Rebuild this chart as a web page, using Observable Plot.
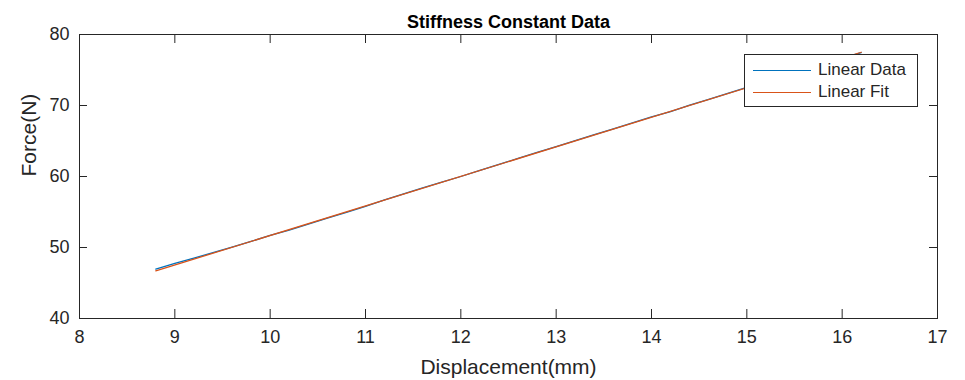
<!DOCTYPE html>
<html>
<head>
<meta charset="utf-8">
<script src="https://cdn.jsdelivr.net/npm/d3@7"></script>
<script src="https://cdn.jsdelivr.net/npm/@observablehq/plot@0.6"></script>
<style>
  body { margin: 0; background: #fff; }
  #wrap { position: relative; width: 965px; height: 380px; font-family: "Liberation Sans", Arial, Helvetica, sans-serif; }
  #legend { position: absolute; left: 744px; top: 54px; width: 172px; height: 51px; background: #fff; border: 1px solid #262626; }
  .row { position: absolute; left: 8px; height: 22px; display: flex; align-items: center; font-size: 17px; color: #262626; }
  .swatch { width: 58px; height: 0; border-top: 1.2px solid; margin-right: 7px; }
</style>
</head>
<body>
<div id="wrap"></div>
<script>
const title = "Stiffness Constant Data";
const xLabel = "Displacement(mm)";
const yLabel = "Force(N)";
const xTicks = [8, 9, 10, 11, 12, 13, 14, 15, 16, 17];
const yTicks = [40, 50, 60, 70, 80];
const seriesNames = ["Linear Data", "Linear Fit"];
const seriesColors = ["#0072BD", "#D95319"];

// Measured data (displacement mm, force N)
const dataX = [8.8, 9.0, 9.2, 9.4, 9.6, 9.8, 10.0, 10.2, 10.4, 10.6, 10.8, 11.0, 11.2, 11.4, 11.6, 11.8, 12.0, 12.2, 12.4, 12.6, 12.8, 13.0, 13.2, 13.4, 13.6, 13.8, 14.0, 14.2, 14.4, 14.6, 14.8, 15.0, 15.2, 15.4, 15.6, 15.8, 16.0, 16.2];
const dataY = [46.95, 47.75, 48.50, 49.28, 50.05, 50.85, 51.70, 52.45, 53.30, 54.15, 54.95, 55.80, 56.70, 57.55, 58.40, 59.20, 60.00, 60.85, 61.70, 62.55, 63.40, 64.20, 65.05, 65.90, 66.70, 67.55, 68.40, 69.15, 70.05, 70.85, 71.70, 72.55, 73.35, 74.20, 75.00, 75.85, 76.65, 77.45];
// Linear fit endpoints
const fitX = [8.8, 16.2];
const fitY = [46.7, 77.5];

const dataRows = dataX.map((x, i) => ({x, y: dataY[i]}));
const fitRows = fitX.map((x, i) => ({x, y: fitY[i]}));

const W = 965, H = 380, mL = 79, mR = 28, mT = 34, mB = 62;
const fw = W - mL - mR, fh = H - mT - mB;
const ink = "#262626";
const tx = 9, ty = 8;

const chart = Plot.plot({
  width: W, height: H,
  marginLeft: mL, marginRight: mR, marginTop: mT, marginBottom: mB,
  style: {fontFamily: '"Liberation Sans", Arial, Helvetica, sans-serif', color: ink, background: "#fff"},
  x: {domain: [8, 17]},
  y: {domain: [40, 80]},
  marks: [
    Plot.line(dataRows, {x: "x", y: "y", stroke: seriesColors[0], strokeWidth: 1.3}),
    Plot.line(fitRows, {x: "x", y: "y", stroke: seriesColors[1], strokeWidth: 1.3}),
    Plot.frame({stroke: ink, strokeWidth: 1}),
    Plot.ruleX(xTicks, {x: d => d, insetTop: fh - tx, stroke: ink}),
    Plot.ruleX(xTicks, {x: d => d, insetBottom: fh - tx, stroke: ink}),
    Plot.ruleY(yTicks, {y: d => d, insetRight: fw - ty, stroke: ink}),
    Plot.ruleY(yTicks, {y: d => d, insetLeft: fw - ty, stroke: ink}),
    Plot.axisX({ticks: xTicks, tickSize: 0, tickPadding: 12, fontSize: 18, label: null, fill: ink}),
    Plot.axisY({ticks: yTicks, tickSize: 0, tickPadding: 10, fontSize: 18, label: null, fill: ink}),
    Plot.text([xLabel], {text: d => d, frameAnchor: "bottom", lineAnchor: "bottom", dy: 55, fontSize: 21, fill: ink}),
    Plot.text([yLabel], {text: d => d, frameAnchor: "left", rotate: -90, lineAnchor: "top", dx: -58, fontSize: 21, fill: ink}),
    Plot.text([title], {text: d => d, frameAnchor: "top", lineAnchor: "bottom", dy: -7, fontSize: 18, fontWeight: "bold", fill: "#000"})
  ]
});

const wrap = document.getElementById("wrap");
wrap.appendChild(chart);
const legend = document.createElement("div");
legend.id = "legend";
seriesNames.forEach((name, i) => {
  const row = document.createElement("div");
  row.className = "row";
  row.style.top = (4 + i * 22) + "px";
  const sw = document.createElement("span");
  sw.className = "swatch";
  sw.style.borderTopColor = seriesColors[i];
  const t = document.createElement("span");
  t.textContent = name;
  row.appendChild(sw);
  row.appendChild(t);
  legend.appendChild(row);
});
wrap.appendChild(legend);
</script>
</body>
</html>
